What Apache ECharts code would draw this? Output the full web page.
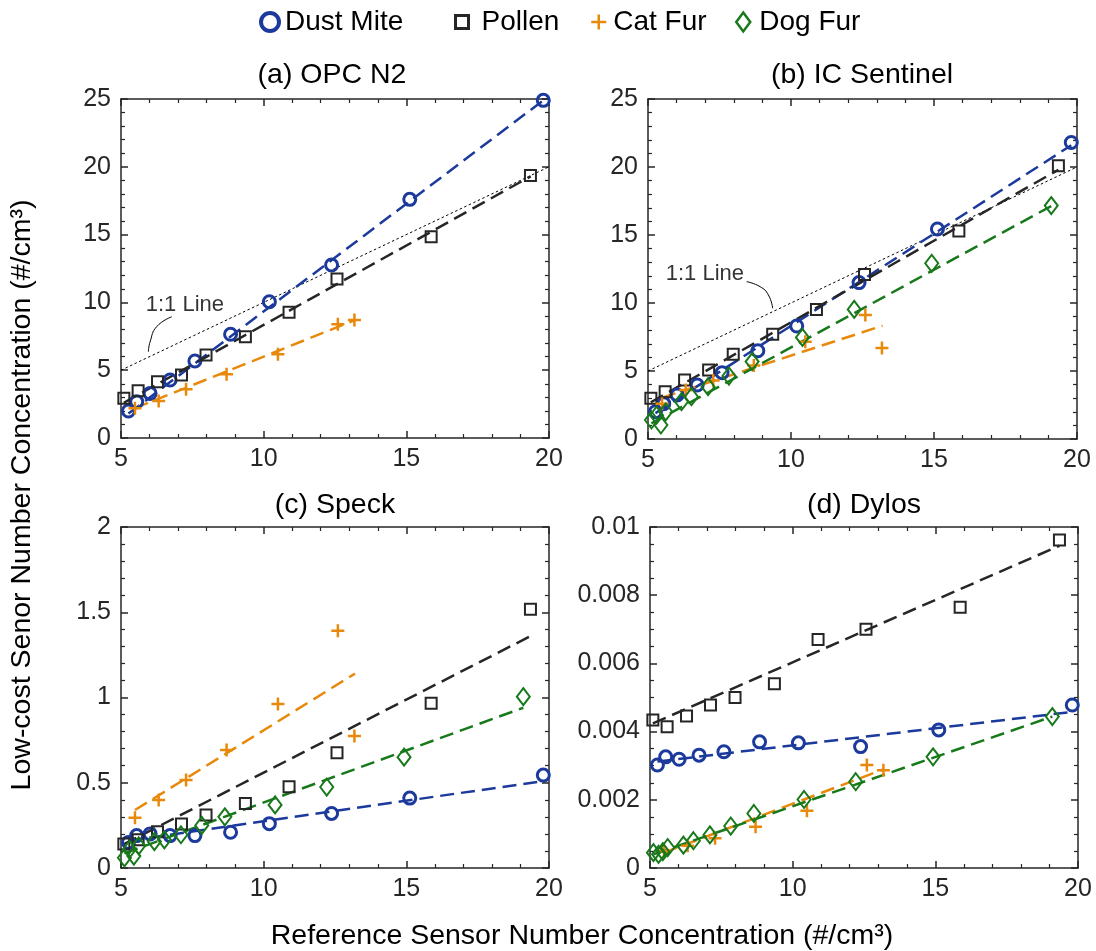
<!DOCTYPE html>
<html><head><meta charset="utf-8">
<script src="https://cdn.jsdelivr.net/npm/echarts@6/dist/echarts.min.js"></script>
<style>html,body{margin:0;padding:0;background:#fff}#c{width:1096px;height:951px}</style>
</head><body><div id="c"></div>
<script>
// ---------- data ----------
const panelTitles = ['(a) OPC N2', '(b) IC Sentinel', '(c) Speck', '(d) Dylos'];
const species = ['Dust Mite', 'Pollen', 'Cat Fur', 'Dog Fur'];
const xTicks = [5, 10, 15, 20];
const yMax = [25, 25, 2, 0.01];
const yInterval = [5, 5, 0.5, 0.002];
const yMinorSplit = [5, 5, 5, 4];

const dustX = [5.26, 5.55, 6.02, 6.72, 7.59, 8.84, 10.20, 12.38, 15.12, 19.80];
const pollenX = [5.10, 5.60, 6.28, 7.12, 7.98, 9.36, 10.89, 12.57, 15.87, 19.35];
const catX = [5.49, 6.32, 7.28, 8.70, 10.50, 12.60, 13.18];
const dogX = [5.12, 5.30, 5.45, 5.62, 6.17, 6.52, 7.10, 7.83, 8.64, 10.40, 12.21, 14.92, 19.10];

// (a) OPC N2
const dustA = [1.99, 2.68, 3.29, 4.28, 5.68, 7.65, 10.05, 12.76, 17.6, 24.9];
const pollenA = [2.93, 3.49, 4.15, 4.65, 6.12, 7.47, 9.27, 11.73, 14.85, 19.35];
const catA = [2.19, 2.73, 3.59, 4.70, 6.17, 8.38, 8.70];
const dogA = [];
// (b) IC Sentinel
const dustB = [2.0, 2.6, 3.24, 3.97, 4.88, 6.49, 8.31, 11.5, 15.44, 21.8];
const pollenB = [2.99, 3.48, 4.34, 5.07, 6.23, 7.70, 9.53, 12.1, 15.3, 20.1];
const catB = [2.6, 3.6, 4.3, 5.4, 7.15, 9.12, 6.7];
const dogB = [1.40, 1.75, 1.03, 2.0, 2.74, 3.11, 3.85, 4.63, 5.69, 7.47, 9.53, 12.92, 17.16];
// (c) Speck
const dustC = [0.15, 0.19, 0.20, 0.19, 0.19, 0.21, 0.26, 0.32, 0.41, 0.545];
const pollenC = [0.141, 0.166, 0.213, 0.258, 0.311, 0.379, 0.477, 0.676, 0.966, 1.517];
const catC = [0.295, 0.399, 0.516, 0.692, 0.962, 1.392, 0.774];
const dogC = [0.06, 0.11, 0.07, 0.13, 0.155, 0.165, 0.195, 0.25, 0.30, 0.37, 0.475, 0.65, 1.005];
// (d) Dylos
const dustD = [0.00302, 0.00326, 0.00319, 0.00331, 0.00341, 0.0037, 0.00367, 0.00356, 0.00405, 0.00478];
const pollenD = [0.00434, 0.00414, 0.00446, 0.00478, 0.0050, 0.0054, 0.0067, 0.0070, 0.00765, 0.00962];
const catD = [0.0005, 0.00065, 0.00087, 0.00121, 0.00168, 0.00302, 0.00287];
const dogD = [0.00045, 0.00040, 0.00048, 0.00060, 0.00067, 0.0008, 0.00097, 0.00123, 0.0016, 0.00201, 0.00253, 0.00326, 0.00444];

// fitted trend lines (endpoints)
const fitDustA = [[5.26, 1.8], [19.8, 24.9]];
const fitPollenA = [[5.10, 2.6], [19.36, 19.3]];
const fitCatA = [[5.49, 2.2], [13.2, 8.7]];
const fitDogA = [];
const fitDustB = [[5.26, 1.9], [19.8, 21.6]];
const fitPollenB = [[5.10, 2.7], [19.35, 19.8]];
const fitCatB = [[5.49, 3.04], [13.2, 8.33]];
const fitDogB = [[5.12, 1.15], [19.1, 17.13]];
const fitDustC = [[5.26, 0.16], [19.8, 0.51]];
const fitPollenC = [[5.10, 0.14], [19.35, 1.36]];
const fitCatC = [[5.49, 0.34], [13.2, 1.14]];
const fitDogC = [[5.12, 0.086], [19.1, 0.94]];
const fitDustD = [[5.26, 0.00312], [19.8, 0.00458]];
const fitPollenD = [[5.10, 0.00424], [19.35, 0.00945]];
const fitCatD = [[5.49, 0.00045], [13.2, 0.0029]];
const fitDogD = [[5.12, 0.00040], [19.1, 0.00444]];

// 1:1 reference line and its annotation (panels a, b)
const oneToOne = [[5, 5], [20, 20]];
const labelA = [7.24, 9.8];
const leaderA = [[6.78, 8.94], [6.25, 8.21], [6.02, 7.10], [5.96, 6.36]];
const labelB = [6.99, 12.17];
const leaderB = [[8.45, 11.57], [8.92, 11.2], [9.21, 10.59], [9.36, 9.61]];

// ---------- chart ----------
const FONT = '"Liberation Sans", Arial, Helvetica, sans-serif';
const AX = '#262626';
const colors = ['#1b3a9c', '#262626', '#e8890c', '#18791a'];
const plusPath = 'path://M6,0L6,12M0,6L12,6';
const symbols = ['circle', 'rect', plusPath, 'diamond'];
const symSizes = [12, 11, 13, [13, 17]];
const borderW = [3, 2, 2.5, 2];

const Ys = [[dustA, pollenA, catA, dogA], [dustB, pollenB, catB, dogB], [dustC, pollenC, catC, dogC], [dustD, pollenD, catD, dogD]];
const Xs = [dustX, pollenX, catX, dogX];
const fits = [[fitDustA, fitPollenA, fitCatA, fitDogA], [fitDustB, fitPollenB, fitCatB, fitDogB],
              [fitDustC, fitPollenC, fitCatC, fitDogC], [fitDustD, fitPollenD, fitCatD, fitDogD]];

const grids = [
  {left: 121, top: 99, width: 428, height: 339},
  {left: 648, top: 99, width: 429, height: 340},
  {left: 121, top: 527, width: 428, height: 341},
  {left: 650, top: 527, width: 428, height: 341}
];

const lineSt = {color: AX, width: 1.5};
function fmtY(v) { return String(+v.toFixed(4)); }
const xAxes = [], yAxes = [];
grids.forEach((g, p) => {
  ['bottom', 'top'].forEach((pos, k) => {
    xAxes.push({
      type: 'value', gridIndex: p, position: pos, min: xTicks[0], max: xTicks[xTicks.length - 1], interval: 5,
      axisLine: {show: true, onZero: false, lineStyle: lineSt},
      axisTick: {show: true, inside: true, length: 7, lineStyle: lineSt},
      minorTick: {show: true, splitNumber: 5, length: 4, lineStyle: {color: AX, width: 1.2}},
      axisLabel: {show: k === 0, fontSize: 25, color: AX, fontFamily: FONT, margin: 9},
      splitLine: {show: false}, minorSplitLine: {show: false}
    });
  });
  ['left', 'right'].forEach((pos, k) => {
    yAxes.push({
      type: 'value', gridIndex: p, position: pos, min: 0, max: yMax[p], interval: yInterval[p],
      axisLine: {show: true, onZero: false, lineStyle: lineSt},
      axisTick: {show: true, inside: true, length: 7, lineStyle: lineSt},
      minorTick: {show: true, splitNumber: yMinorSplit[p], length: 4, lineStyle: {color: AX, width: 1.2}},
      axisLabel: {show: k === 0, fontSize: 25, color: AX, fontFamily: FONT, margin: 10, formatter: fmtY},
      splitLine: {show: false}, minorSplitLine: {show: false}
    });
  });
});

const series = [];
grids.forEach((g, p) => {
  if (p < 2) {
    series.push({
      type: 'line', name: '1:1', xAxisIndex: 2 * p, yAxisIndex: 2 * p, data: oneToOne,
      symbol: 'none', silent: true, lineStyle: {color: '#000', width: 1, type: [2.5, 2.5]}, z: 2
    });
    series.push({
      type: 'line', name: 'leader', xAxisIndex: 2 * p, yAxisIndex: 2 * p, data: p === 0 ? leaderA : leaderB,
      symbol: 'none', smooth: 0.5, silent: true, lineStyle: {color: '#000', width: 1}, z: 2
    });
    series.push({
      type: 'scatter', name: 'label', xAxisIndex: 2 * p, yAxisIndex: 2 * p, data: [p === 0 ? labelA : labelB],
      symbolSize: 1, itemStyle: {color: 'rgba(0,0,0,0)'}, silent: true,
      label: {show: true, position: 'inside', formatter: '1:1 Line', fontSize: 22, color: '#000', fontFamily: FONT}
    });
  }
  species.forEach((sp, s) => {
    const f = fits[p][s];
    if (f.length) {
      series.push({
        type: 'line', name: sp + ' fit', xAxisIndex: 2 * p, yAxisIndex: 2 * p, data: f, symbol: 'none', silent: true,
        lineStyle: {color: colors[s], width: 2.5, type: [14, 7]}, z: 3
      });
    }
  });
  species.forEach((sp, s) => {
    const ys = Ys[p][s];
    series.push({
      type: 'scatter', name: sp, xAxisIndex: 2 * p, yAxisIndex: 2 * p,
      data: ys.map((y, i) => [Xs[s][i], y]),
      symbol: symbols[s], symbolSize: symSizes[s],
      itemStyle: {color: 'rgba(0,0,0,0)', borderColor: colors[s], borderWidth: borderW[s], opacity: 1},
      z: 4
    });
  });
});

const legendBoxes = [
  {left: 259, w: 18, h: 18, bw: 4, pad: 1},
  {left: 454, w: 13, h: 13, bw: 3, pad: 8},
  {left: 590, w: 15, h: 15, bw: 2.5, pad: 2},
  {left: 735, w: 14, h: 19, bw: 2.5, pad: 4, keep: false}
];
const legends = species.map((sp, s) => ({
  data: [sp], left: legendBoxes[s].left, top: 8, orient: 'horizontal',
  itemWidth: legendBoxes[s].w, itemHeight: legendBoxes[s].h,
  symbolKeepAspect: legendBoxes[s].keep !== false,
  itemStyle: {borderWidth: legendBoxes[s].bw},
  textStyle: {fontSize: 28, color: '#000', fontFamily: FONT, padding: [0, 0, 0, legendBoxes[s].pad]},
  selectedMode: false, padding: 0
}));

const titleCenters = [[332, 75], [862, 75], [335, 505], [864, 505]];
const graphics = panelTitles.map((t, i) => ({
  type: 'text', x: titleCenters[i][0], y: titleCenters[i][1],
  style: {text: t, fontSize: 28.5, fontFamily: FONT, fill: '#000', textAlign: 'center', textVerticalAlign: 'middle'}
}));
graphics.push({
  type: 'text', x: 582, y: 936,
  style: {text: 'Reference Sensor Number Concentration (#/cm³)', fontSize: 28.5, fontFamily: FONT, fill: '#000', textAlign: 'center', textVerticalAlign: 'middle'}
});
graphics.push({
  type: 'text', x: 22, y: 495, rotation: Math.PI / 2,
  style: {text: 'Low-cost Senor Number Concentration (#/cm³)', fontSize: 28.5, fontFamily: FONT, fill: '#000', textAlign: 'center', textVerticalAlign: 'middle'}
});

const chart = echarts.init(document.getElementById('c'), null, {renderer: 'canvas'});
chart.setOption({
  animation: false,
  backgroundColor: '#fff',
  grid: grids,
  xAxis: xAxes,
  yAxis: yAxes,
  legend: legends,
  graphic: graphics,
  series: series
});
</script></body></html>
